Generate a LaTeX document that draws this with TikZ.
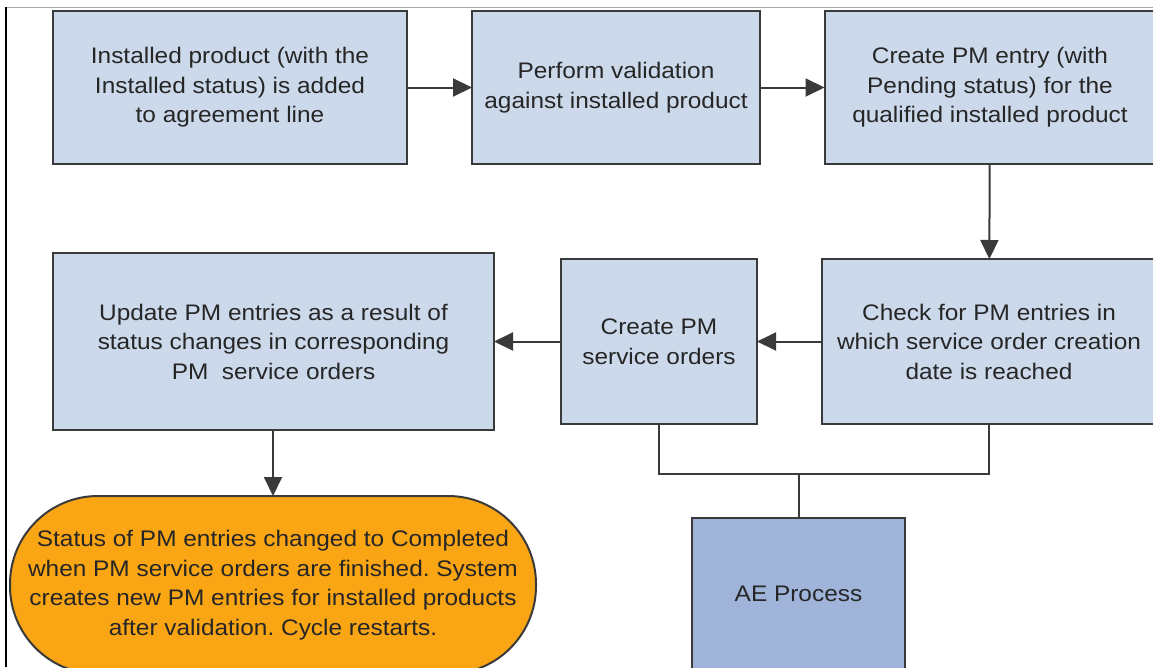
\documentclass[tikz,border=0pt]{standalone}
\usepackage{fontspec}
\setmainfont{Liberation Sans}[FakeStretch=1.085]
\usetikzlibrary{arrows.meta,calc}
\definecolor{boxblue}{RGB}{204,217,235}
\definecolor{aeblue}{RGB}{160,180,218}
\definecolor{endorange}{RGB}{250,165,20}
\definecolor{edge}{RGB}{58,58,58}
\frenchspacing
\tikzset{
  flowbox/.style={draw=edge,fill=boxblue,line width=2pt,align=center,
    inner sep=0pt,outer sep=0pt,text=black!85,font=\fontsize{22.5}{29.5}\selectfont},
  flowarrow/.style={draw=edge,line width=2pt,-{Triangle[length=19pt,width=18pt]}},
  flowline/.style={draw=edge,line width=2pt}
}
\begin{document}
\begin{tikzpicture}[x=1pt,y=-1pt]
\pgfmathsetmacro{\rowuno}{87.5} % prima riga
\pgfmathsetmacro{\rowdue}{341.5} % seconda riga
\useasboundingbox (0,0) rectangle (1153,667);
\clip (0,0) rectangle (1153,667);
\fill[white] (0,0) rectangle (1153,667);
\draw[gray!70,line width=1pt] (6,7) -- (1153,7); % cornice
\draw[black,line width=1.2pt] (6,7) -- (6,667);

\node[flowbox,minimum width=354pt,minimum height=153pt] (install) at (230,\rowuno)
  {Installed product (with the\\Installed status) is added\\to agreement line};
\node[flowbox,minimum width=288pt,minimum height=153pt] (valid) at (616,\rowuno)
  {Perform validation\\against installed product};
\node[flowbox,minimum width=331pt,minimum height=153pt] (entry) at (990,\rowuno)
  {Create PM entry (with\\Pending status) for the\\qualified installed product};
\node[flowbox,minimum width=334pt,minimum height=165pt] (check) at (989,\rowdue)
  {Check for PM entries in\\which service order creation\\date is reached};
\node[flowbox,minimum width=196pt,minimum height=165pt] (orders) at (659,\rowdue)
  {Create PM\\service orders};
\node[flowbox,minimum width=441pt,minimum height=177pt] (update) at (273.5,\rowdue)
  {Update PM entries as a result of\\status changes in corresponding\\PM\ \ service orders};
\node[flowbox,fill=endorange,rounded corners=88pt,minimum width=526pt,
  minimum height=178pt] (status) at (273,585)
  {Status of PM entries changed to Completed\\when PM service orders are finished. System\\
   creates new PM entries for installed products\\after validation. Cycle restarts.};
\node[flowbox,fill=aeblue,minimum width=213pt,minimum height=152pt] (ae) at (798.5,594)
  {AE Process};

\draw[flowarrow] (install) -- (valid);
\draw[flowarrow] (valid) -- (entry);
\draw[flowarrow] (entry) -- (check);
\draw[flowarrow] (check) -- (orders);
\draw[flowarrow] (orders) -- (update);
\draw[flowarrow] (update.south -| status.north) -- (status.north);
\coordinate (join) at ($(ae.north)+(0,-44)$);
\draw[flowline] (orders.south) |- (check.south |- join) -- (check.south); % verso AE
\draw[flowline] (join) -- (ae.north);
\end{tikzpicture}
\end{document}
